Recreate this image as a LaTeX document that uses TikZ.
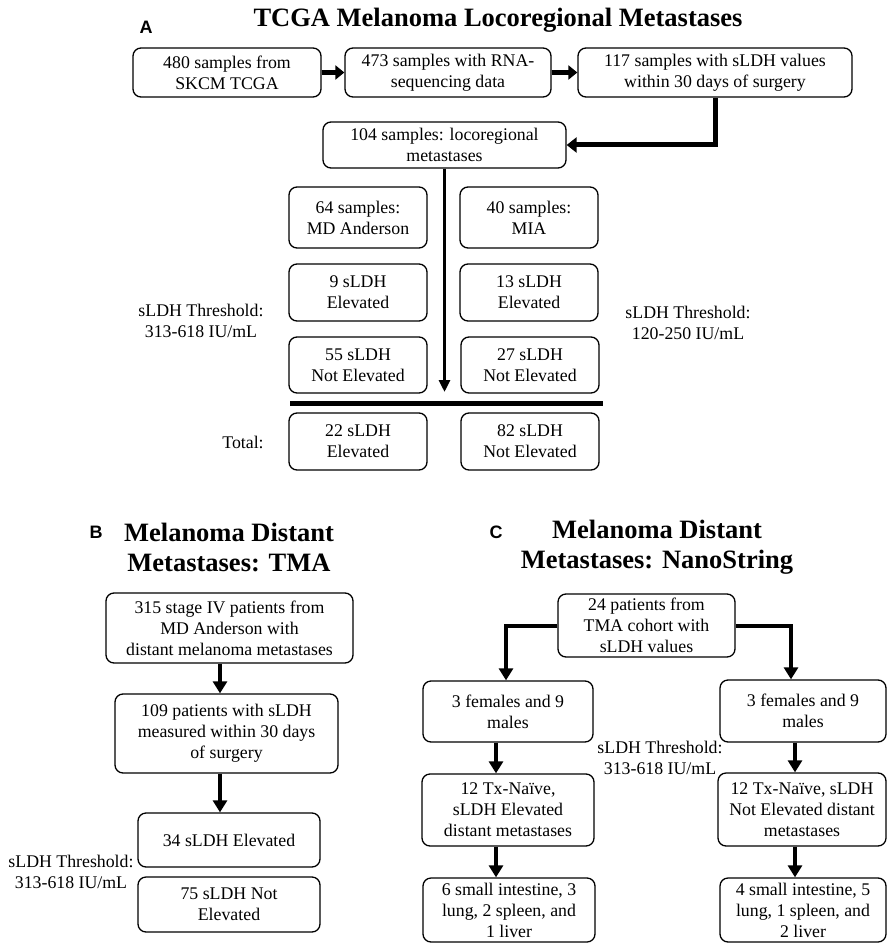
\documentclass[tikz,border=0pt]{standalone}
\usepackage{fontspec}
\setmainfont{Liberation Serif}
\newfontfamily\labelfont{Liberation Sans}
\usetikzlibrary{arrows.meta}
\tikzset{
  box/.style={draw, rounded corners=8pt, line width=1.3pt, align=center, inner sep=0pt,
              font=\fontsize{17.8}{21}\selectfont},
  note/.style={align=center, inner sep=0pt, font=\fontsize{17.8}{21}\selectfont},
  ttl/.style={align=center, inner sep=0pt, font=\fontsize{26.5}{30}\selectfont\bfseries},
  lbl/.style={inner sep=0pt, font=\labelfont\fontsize{18}{20}\selectfont\bfseries},
  rowarrow/.style={line width=5pt, -{Triangle[length=9pt,width=14pt]}},
  elbowarrow/.style={line width=5pt, -{Triangle[length=10pt,width=15pt]}},
  midarrow/.style={line width=3pt, -{Triangle[length=12pt,width=11pt]}},
  fatarrow/.style={line width=4pt, -{Triangle[length=12pt,width=14pt]}},
  barline/.style={line width=5pt}
}
\begin{document}
\begin{tikzpicture}[x=1pt,y=-1pt]
\fill[white] (0,0) rectangle (887,944);
\useasboundingbox (0,0) rectangle (887,944);

% ---------- Panel A ----------
\node[lbl] (la) at (146,27) {A};
\node[ttl] (ta) at (498,20) {TCGA Melanoma Locoregional Metastases};

\node[box, minimum width=188pt, minimum height=49pt] (a1) at (227,72.5) {480 samples from\\SKCM TCGA};
\node[box, minimum width=206pt, minimum height=49pt] (a2) at (448,72.5) {473 samples with RNA-\\sequencing data};
\node[box, minimum width=274pt, minimum height=49pt] (a3) at (715,72.5) {117 samples with sLDH values\\within 30 days of surgery};
\node[box, minimum width=243pt, minimum height=46pt] (a4) at (444.5,145) {104 samples: locoregional\\metastases};

\draw[rowarrow] (a1.east) -- (a2.west);
\draw[rowarrow] (a2.east) -- (a3.west);
\draw[elbowarrow] (a3.south) |- (a4.east);

\node[box, minimum width=138pt, minimum height=61pt] (md) at (358,217.5) {64 samples:\\MD Anderson};
\node[box, minimum width=138pt, minimum height=61pt] (mia) at (529,217.5) {40 samples:\\MIA};
\node[box, minimum width=138pt, minimum height=57pt] (mde) at (358,292.5) {9 sLDH\\Elevated};
\node[box, minimum width=138pt, minimum height=57pt] (miae) at (529,292.5) {13 sLDH\\Elevated};
\node[box, minimum width=138pt, minimum height=56pt] (mdn) at (358,365) {55 sLDH\\Not Elevated};
\node[box, minimum width=138pt, minimum height=56pt] (mian) at (530,365) {27 sLDH\\Not Elevated};
\node[box, minimum width=138pt, minimum height=57pt] (tote) at (358,441.5) {22 sLDH\\Elevated};
\node[box, minimum width=138pt, minimum height=57pt] (totn) at (530,441.5) {82 sLDH\\Not Elevated};

\coordinate (aend) at (444.5,392);
\draw[midarrow] (a4.south) -- (a4.south |- aend);

\coordinate (bar1) at (290,403);
\coordinate (bar2) at (603,403);
\draw[barline] (bar1) -- (bar2);

\node[note] (thl) at (201,321) {sLDH Threshold:\\313-618 IU/mL};
\node[note] (thr) at (688,323) {sLDH Threshold:\\120-250 IU/mL};
\node[note] (tot) at (243,442) {Total:};

% ---------- Panel B ----------
\node[lbl] (lb) at (96,532) {B};
\node[ttl] (tb) at (229,547) {Melanoma Distant\\Metastases: TMA};

\node[box, minimum width=247pt, minimum height=70pt] (b1) at (229.5,628) {315 stage IV patients from\\MD Anderson with\\distant melanoma metastases};
\node[box, minimum width=223pt, minimum height=79pt] (b2) at (226.5,733.5) {109 patients with sLDH\\measured within 30 days\\of surgery};
\node[box, minimum width=182pt, minimum height=54pt] (b3) at (229,840) {34 sLDH Elevated};
\node[box, minimum width=182pt, minimum height=55pt] (b4) at (229,904.5) {75 sLDH Not\\Elevated};

\coordinate (bx) at (220,0);
\draw[fatarrow] (b1.south -| bx) -- (b2.north -| bx);
\draw[fatarrow] (b2.south -| bx) -- (b3.north -| bx);

\node[note] (thb) at (71,872) {sLDH Threshold:\\313-618 IU/mL};

% ---------- Panel C ----------
\node[lbl] (lc) at (496,532) {C};
\node[ttl] (tc) at (657,547) {Melanoma Distant\\Metastases: NanoString};

\node[box, minimum width=177pt, minimum height=63pt] (c1) at (646.5,625.5) {24 patients from\\TMA cohort with\\sLDH values};

\node[box, minimum width=170pt, minimum height=61pt] (cl1) at (508,711.5) {3 females and 9\\males};
\node[box, minimum width=166pt, minimum height=62pt] (cr1) at (803,711) {3 females and 9\\males};
\node[box, minimum width=172pt, minimum height=72pt] (cl2) at (508,810) {12 Tx-Naïve,\\sLDH Elevated\\distant metastases};
\node[box, minimum width=168pt, minimum height=73pt] (cr2) at (802,809.5) {12 Tx-Naïve, sLDH\\Not Elevated distant\\metastases};
\node[box, minimum width=172pt, minimum height=64pt] (cl3) at (509,910) {6 small intestine, 3\\lung, 2 spleen, and\\1 liver};
\node[box, minimum width=166pt, minimum height=64pt] (cr3) at (803,910) {4 small intestine, 5\\lung, 1 spleen, and\\2 liver};

\coordinate (clx) at (506,0);
\coordinate (crx) at (791,0);
\coordinate (clx2) at (496,0);
\coordinate (crx2) at (795,0);
\draw[fatarrow] (c1.west) -| (cl1.north -| clx);
\draw[fatarrow] (c1.east) -| (cr1.north -| crx);
\draw[fatarrow] (cl1.south -| clx2) -- (cl2.north -| clx2);
\draw[fatarrow] (cr1.south -| crx2) -- (cr2.north -| crx2);
\draw[fatarrow] (cl2.south -| clx2) -- (cl3.north -| clx2);
\draw[fatarrow] (cr2.south -| crx2) -- (cr3.north -| crx2);

\node[note] (thc) at (660,758) {sLDH Threshold:\\313-618 IU/mL};
\end{tikzpicture}
\end{document}
